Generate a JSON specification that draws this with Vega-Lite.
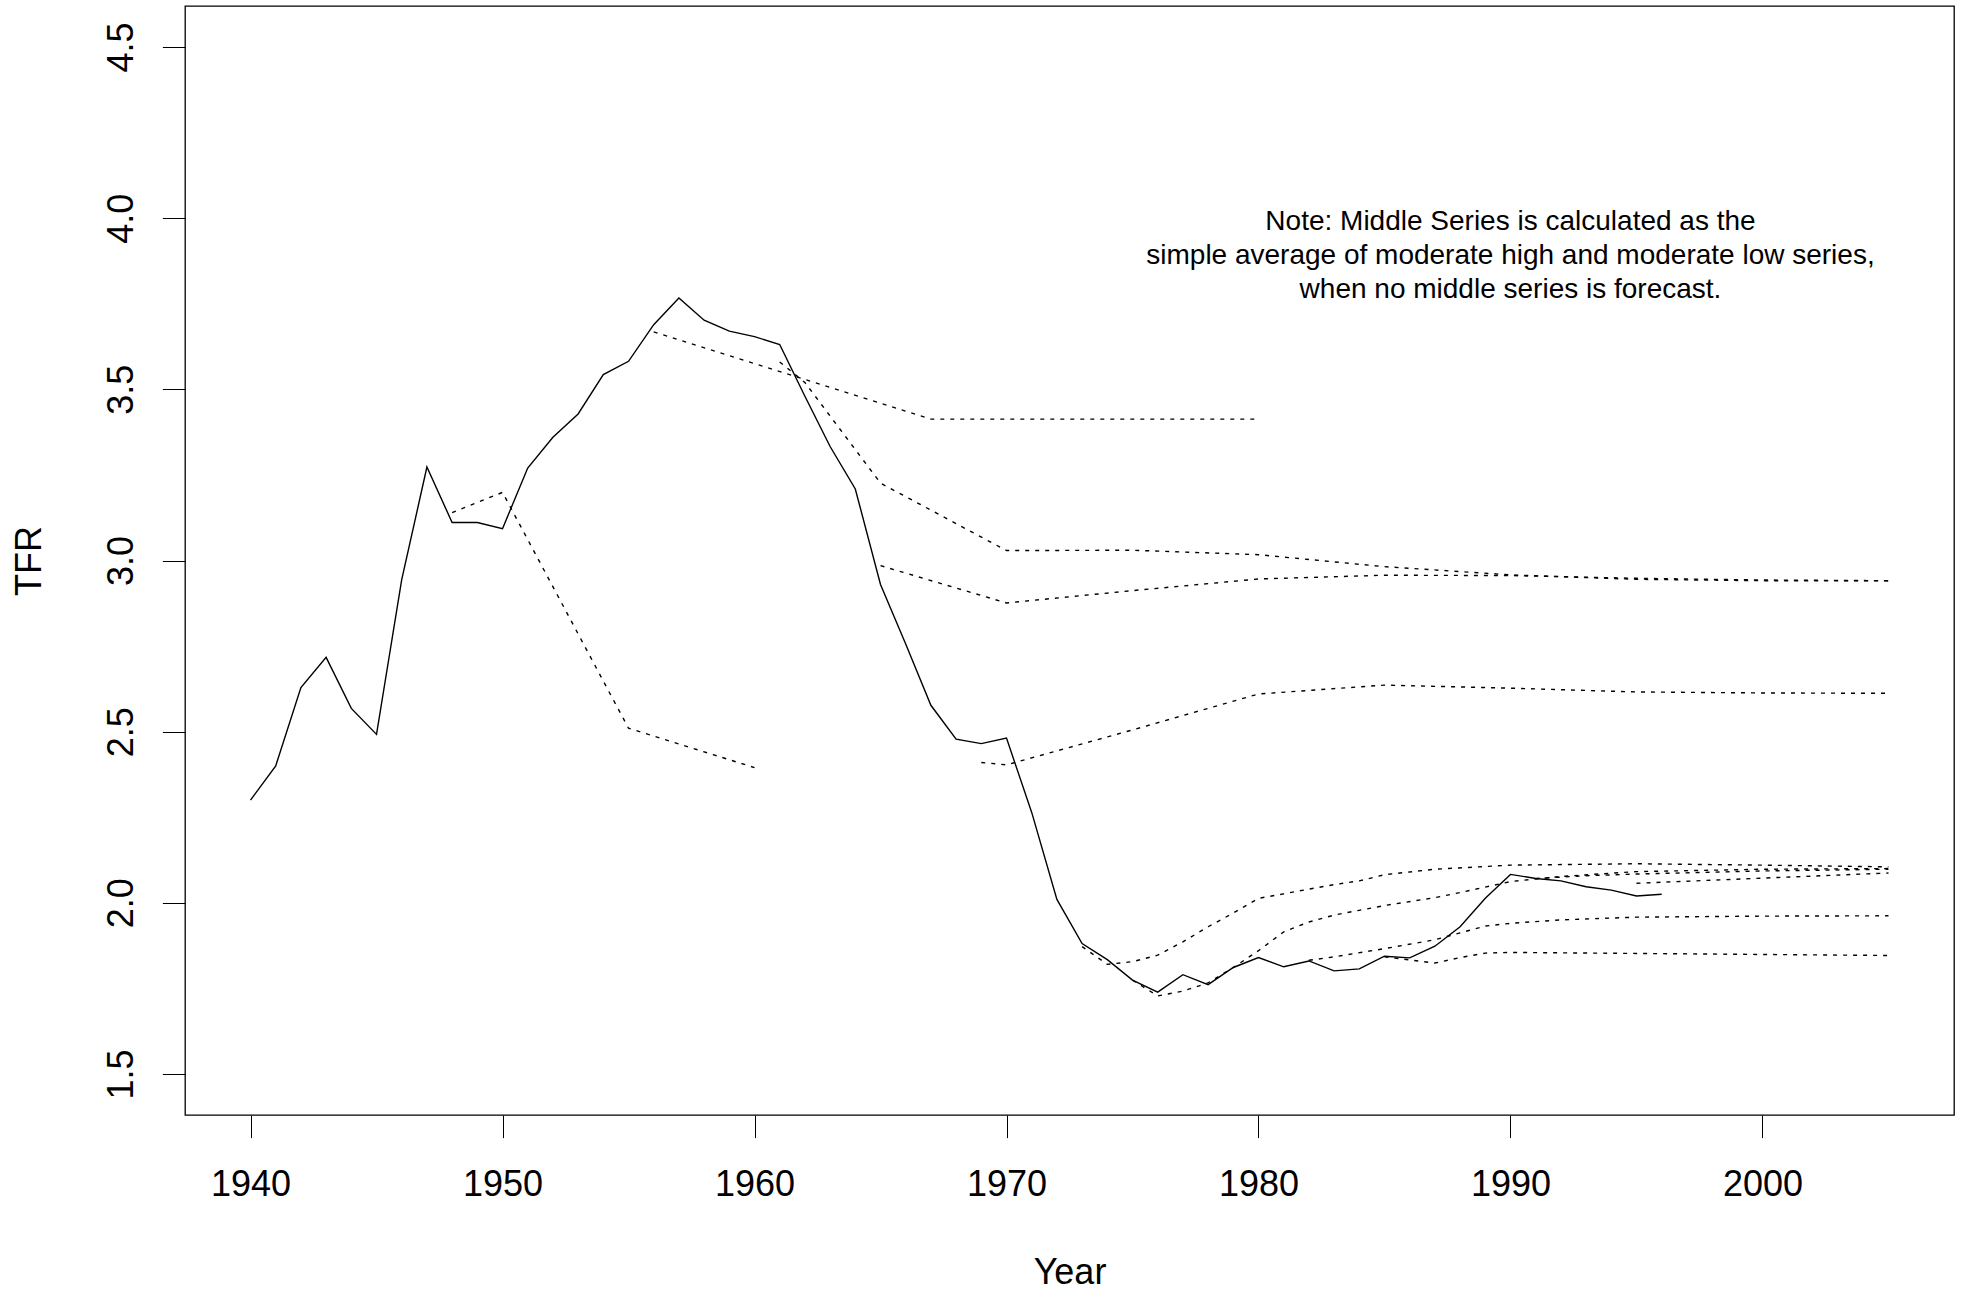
{
  "$schema": "https://vega.github.io/schema/vega-lite/v6.json",
  "autosize": {"type": "none"},
  "width": 1769,
  "height": 1109,
  "padding": {"left": 185, "top": 6, "right": 9, "bottom": 176},
  "background": "white",
  "datasets": {
    "actual": [
      {"year": 1940, "tfr": 2.300}, {"year": 1941, "tfr": 2.400}, {"year": 1942, "tfr": 2.629},
      {"year": 1943, "tfr": 2.717}, {"year": 1944, "tfr": 2.568}, {"year": 1945, "tfr": 2.492},
      {"year": 1946, "tfr": 2.944}, {"year": 1947, "tfr": 3.273}, {"year": 1948, "tfr": 3.111},
      {"year": 1949, "tfr": 3.111}, {"year": 1950, "tfr": 3.093}, {"year": 1951, "tfr": 3.270},
      {"year": 1952, "tfr": 3.360}, {"year": 1953, "tfr": 3.428}, {"year": 1954, "tfr": 3.543},
      {"year": 1955, "tfr": 3.582}, {"year": 1956, "tfr": 3.689}, {"year": 1957, "tfr": 3.767},
      {"year": 1958, "tfr": 3.702}, {"year": 1959, "tfr": 3.670}, {"year": 1960, "tfr": 3.654},
      {"year": 1961, "tfr": 3.631}, {"year": 1962, "tfr": 3.480}, {"year": 1963, "tfr": 3.333},
      {"year": 1964, "tfr": 3.209}, {"year": 1965, "tfr": 2.930}, {"year": 1966, "tfr": 2.756},
      {"year": 1967, "tfr": 2.577}, {"year": 1968, "tfr": 2.478}, {"year": 1969, "tfr": 2.465},
      {"year": 1970, "tfr": 2.481}, {"year": 1971, "tfr": 2.264}, {"year": 1972, "tfr": 2.010},
      {"year": 1973, "tfr": 1.881}, {"year": 1974, "tfr": 1.834}, {"year": 1975, "tfr": 1.774},
      {"year": 1976, "tfr": 1.739}, {"year": 1977, "tfr": 1.790}, {"year": 1978, "tfr": 1.761},
      {"year": 1979, "tfr": 1.811}, {"year": 1980, "tfr": 1.840}, {"year": 1981, "tfr": 1.813},
      {"year": 1982, "tfr": 1.830}, {"year": 1983, "tfr": 1.801}, {"year": 1984, "tfr": 1.807},
      {"year": 1985, "tfr": 1.844}, {"year": 1986, "tfr": 1.839}, {"year": 1987, "tfr": 1.873},
      {"year": 1988, "tfr": 1.930}, {"year": 1989, "tfr": 2.013}, {"year": 1990, "tfr": 2.083},
      {"year": 1991, "tfr": 2.071}, {"year": 1992, "tfr": 2.064}, {"year": 1993, "tfr": 2.047},
      {"year": 1994, "tfr": 2.037}, {"year": 1995, "tfr": 2.020}, {"year": 1996, "tfr": 2.025}
    ],
    "forecast": [
      {"series": "A", "year": 1948, "tfr": 3.140}, {"series": "A", "year": 1950, "tfr": 3.199},
      {"series": "A", "year": 1955, "tfr": 2.510}, {"series": "A", "year": 1960, "tfr": 2.395},

      {"series": "B", "year": 1956, "tfr": 3.668}, {"series": "B", "year": 1967, "tfr": 3.413},
      {"series": "B", "year": 1980, "tfr": 3.413},

      {"series": "C", "year": 1961, "tfr": 3.580}, {"series": "C", "year": 1962, "tfr": 3.520},
      {"series": "C", "year": 1965, "tfr": 3.226}, {"series": "C", "year": 1970, "tfr": 3.029},
      {"series": "C", "year": 1975, "tfr": 3.030}, {"series": "C", "year": 1980, "tfr": 3.017},
      {"series": "C", "year": 1985, "tfr": 2.982}, {"series": "C", "year": 1990, "tfr": 2.958},
      {"series": "C", "year": 1995, "tfr": 2.945}, {"series": "C", "year": 2000, "tfr": 2.941},
      {"series": "C", "year": 2005, "tfr": 2.941},

      {"series": "D", "year": 1965, "tfr": 2.985}, {"series": "D", "year": 1970, "tfr": 2.876},
      {"series": "D", "year": 1975, "tfr": 2.912}, {"series": "D", "year": 1980, "tfr": 2.946},
      {"series": "D", "year": 1985, "tfr": 2.957}, {"series": "D", "year": 1990, "tfr": 2.956},
      {"series": "D", "year": 1995, "tfr": 2.948}, {"series": "D", "year": 2000, "tfr": 2.943},
      {"series": "D", "year": 2005, "tfr": 2.941},

      {"series": "E", "year": 1969, "tfr": 2.410}, {"series": "E", "year": 1970, "tfr": 2.403},
      {"series": "E", "year": 1975, "tfr": 2.505}, {"series": "E", "year": 1980, "tfr": 2.610},
      {"series": "E", "year": 1985, "tfr": 2.636}, {"series": "E", "year": 1990, "tfr": 2.627},
      {"series": "E", "year": 1995, "tfr": 2.616}, {"series": "E", "year": 2000, "tfr": 2.613},
      {"series": "E", "year": 2005, "tfr": 2.612},

      {"series": "F", "year": 1973, "tfr": 1.872}, {"series": "F", "year": 1974, "tfr": 1.820},
      {"series": "F", "year": 1975, "tfr": 1.828}, {"series": "F", "year": 1976, "tfr": 1.847},
      {"series": "F", "year": 1977, "tfr": 1.886}, {"series": "F", "year": 1978, "tfr": 1.930},
      {"series": "F", "year": 1979, "tfr": 1.970}, {"series": "F", "year": 1980, "tfr": 2.013},
      {"series": "F", "year": 1981, "tfr": 2.026}, {"series": "F", "year": 1982, "tfr": 2.040},
      {"series": "F", "year": 1983, "tfr": 2.053}, {"series": "F", "year": 1984, "tfr": 2.064},
      {"series": "F", "year": 1985, "tfr": 2.082}, {"series": "F", "year": 1987, "tfr": 2.098},
      {"series": "F", "year": 1990, "tfr": 2.110}, {"series": "F", "year": 1995, "tfr": 2.114},
      {"series": "F", "year": 2000, "tfr": 2.110}, {"series": "F", "year": 2005, "tfr": 2.105},

      {"series": "G", "year": 1975, "tfr": 1.774}, {"series": "G", "year": 1976, "tfr": 1.728},
      {"series": "G", "year": 1977, "tfr": 1.742}, {"series": "G", "year": 1978, "tfr": 1.766},
      {"series": "G", "year": 1979, "tfr": 1.811}, {"series": "G", "year": 1980, "tfr": 1.860},
      {"series": "G", "year": 1981, "tfr": 1.915}, {"series": "G", "year": 1982, "tfr": 1.944},
      {"series": "G", "year": 1983, "tfr": 1.964}, {"series": "G", "year": 1984, "tfr": 1.978},
      {"series": "G", "year": 1985, "tfr": 1.992}, {"series": "G", "year": 1987, "tfr": 2.015},
      {"series": "G", "year": 1988, "tfr": 2.030}, {"series": "G", "year": 1990, "tfr": 2.062},
      {"series": "G", "year": 1992, "tfr": 2.077}, {"series": "G", "year": 1995, "tfr": 2.091},
      {"series": "G", "year": 2000, "tfr": 2.098}, {"series": "G", "year": 2005, "tfr": 2.100},

      {"series": "K", "year": 1991, "tfr": 2.071}, {"series": "K", "year": 1993, "tfr": 2.079},
      {"series": "K", "year": 1995, "tfr": 2.084}, {"series": "K", "year": 2000, "tfr": 2.093},
      {"series": "K", "year": 2005, "tfr": 2.098},

      {"series": "H", "year": 1982, "tfr": 1.832}, {"series": "H", "year": 1983, "tfr": 1.842},
      {"series": "H", "year": 1985, "tfr": 1.866}, {"series": "H", "year": 1987, "tfr": 1.892},
      {"series": "H", "year": 1988, "tfr": 1.912}, {"series": "H", "year": 1989, "tfr": 1.932},
      {"series": "H", "year": 1990, "tfr": 1.940}, {"series": "H", "year": 1992, "tfr": 1.950},
      {"series": "H", "year": 1995, "tfr": 1.958}, {"series": "H", "year": 2000, "tfr": 1.961},
      {"series": "H", "year": 2005, "tfr": 1.962},

      {"series": "I", "year": 1985, "tfr": 1.842}, {"series": "I", "year": 1987, "tfr": 1.824},
      {"series": "I", "year": 1988, "tfr": 1.840}, {"series": "I", "year": 1989, "tfr": 1.853},
      {"series": "I", "year": 1990, "tfr": 1.855}, {"series": "I", "year": 1995, "tfr": 1.852},
      {"series": "I", "year": 2000, "tfr": 1.849}, {"series": "I", "year": 2005, "tfr": 1.846},

      {"series": "J", "year": 1995, "tfr": 2.057}, {"series": "J", "year": 2005, "tfr": 2.087}
    ],
    "note": [
      {"year": 1990, "tfr": 3.99, "label": "Note: Middle Series is calculated as the\nsimple average of moderate high and moderate low series,\nwhen no middle series is forecast."}
    ]
  },
  "layer": [
    {
      "data": {"name": "forecast"},
      "mark": {"type": "line", "color": "black", "strokeWidth": 1.4, "strokeDash": [4, 6], "strokeCap": "butt", "clip": true},
      "encoding": {
        "x": {"field": "year", "type": "quantitative"},
        "y": {"field": "tfr", "type": "quantitative"},
        "detail": {"field": "series", "type": "nominal"},
        "order": {"field": "year", "type": "quantitative"}
      }
    },
    {
      "data": {"name": "actual"},
      "mark": {"type": "line", "color": "black", "strokeWidth": 1.4, "clip": true},
      "encoding": {
        "x": {
          "field": "year", "type": "quantitative",
          "scale": {"domain": [1937.4, 2007.6], "nice": false, "zero": false},
          "axis": {
            "title": "Year",
            "values": [1940, 1950, 1960, 1970, 1980, 1990, 2000],
            "format": "d",
            "labelPadding": 30,
            "titleX": 884.5,
            "titleY": 168,
            "titleAlign": "center",
            "titleBaseline": "alphabetic",
            "titleAnchor": null
          }
        },
        "y": {
          "field": "tfr", "type": "quantitative",
          "scale": {"domain": [1.38, 4.62], "nice": false, "zero": false},
          "axis": {
            "title": "TFR",
            "values": [1.5, 2.0, 2.5, 3.0, 3.5, 4.0, 4.5],
            "format": ".1f",
            "labelAngle": -90,
            "labelAlign": "center",
            "labelBaseline": "alphabetic",
            "labelPadding": 30,
            "titleAngle": -90,
            "titleX": -145,
            "titleY": 554.5,
            "titleAlign": "center",
            "titleBaseline": "alphabetic",
            "titleAnchor": null
          }
        },
        "order": {"field": "year", "type": "quantitative"}
      }
    },
    {
      "data": {"name": "note"},
      "mark": {"type": "text", "align": "center", "baseline": "middle", "fontSize": 28, "lineHeight": 34, "lineBreak": "\n", "color": "black", "font": "Liberation Sans"},
      "encoding": {
        "x": {"field": "year", "type": "quantitative"},
        "y": {"field": "tfr", "type": "quantitative"},
        "text": {"field": "label", "type": "nominal"}
      }
    }
  ],
  "config": {
    "font": "Liberation Sans",
    "view": {"stroke": "black", "strokeWidth": 1.3},
    "axis": {
      "grid": false,
      "domain": false,
      "ticks": true,
      "tickSize": 22.6,
      "tickWidth": 1,
      "tickColor": "black",
      "labelFont": "Liberation Sans",
      "labelFontSize": 36,
      "labelColor": "black",
      "labelOverlap": false,
      "labelFlush": false,
      "titleFont": "Liberation Sans",
      "titleFontSize": 36,
      "titleFontWeight": "normal",
      "titleColor": "black"
    }
  }
}
